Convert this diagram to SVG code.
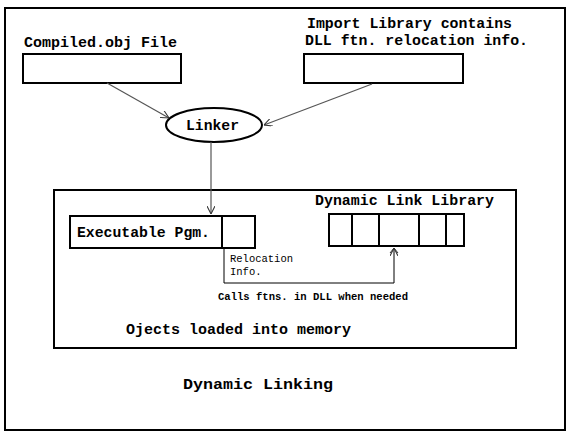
<svg xmlns="http://www.w3.org/2000/svg" width="571" height="434" viewBox="0 0 571 434">
  <style>
    .frame { fill: #fff; stroke: #000; stroke-width: 2; }
    .box { fill: #fff; stroke: #000; stroke-width: 2; }
    .wire { fill: none; stroke: #555; stroke-width: 1.2; }
    .lbl { font-family: "Liberation Mono", "DejaVu Sans Mono", monospace; font-size: 15px; font-weight: bold; fill: #000; }
    .small { font-family: "Liberation Mono", "DejaVu Sans Mono", monospace; font-size: 10.5px; fill: #000; }
    .smallb { font-family: "Liberation Mono", "DejaVu Sans Mono", monospace; font-size: 10.5px; font-weight: bold; fill: #000; }
  </style>
  <defs>
    <marker id="arr" viewBox="0 0 10 10" refX="10" refY="5" markerWidth="8" markerHeight="8" markerUnits="userSpaceOnUse" orient="auto">
      <path d="M0,0 L10,5 L0,10" fill="none" stroke="#333" stroke-width="1.3"/>
    </marker>
  </defs>

  <rect width="571" height="434" fill="#fff"/>
  <rect class="frame" x="5" y="8" width="560" height="422"/>

  <g id="compiled-obj">
    <text class="lbl" x="24" y="47" textLength="153" lengthAdjust="spacingAndGlyphs">Compiled.obj File</text>
    <rect class="box" x="23" y="54" width="158" height="29"/>
  </g>

  <g id="import-library">
    <text class="lbl" x="307" y="28" textLength="205" lengthAdjust="spacingAndGlyphs">Import Library contains</text>
    <text class="lbl" x="305" y="45" textLength="223" lengthAdjust="spacingAndGlyphs">DLL ftn. relocation info.</text>
    <rect class="box" x="304" y="54" width="159" height="29"/>
  </g>

  <g id="linker">
    <ellipse class="box" cx="214" cy="125" rx="48" ry="17"/>
    <text class="lbl" x="186" y="130" textLength="53" lengthAdjust="spacingAndGlyphs">Linker</text>
  </g>

  <g id="memory">
    <rect class="frame" x="54" y="190" width="462" height="158"/>
    <text class="lbl" x="126" y="334" textLength="225" lengthAdjust="spacingAndGlyphs">Ojects loaded into memory</text>
  </g>

  <g id="executable">
    <rect class="box" x="70" y="216" width="152" height="32"/>
    <rect class="box" x="222" y="216" width="33" height="32"/>
    <text class="lbl" x="77" y="237" textLength="133" lengthAdjust="spacingAndGlyphs">Executable Pgm.</text>
    <text class="small" x="230" y="262" textLength="63" lengthAdjust="spacingAndGlyphs">Relocation</text>
    <text class="small" x="230" y="275">Info.</text>
  </g>

  <g id="dll">
    <text class="lbl" x="315" y="205" textLength="179" lengthAdjust="spacingAndGlyphs">Dynamic Link Library</text>
    <rect class="box" x="329" y="214" width="135" height="32"/>
    <line x1="352" y1="214" x2="352" y2="246" stroke="#000" stroke-width="2"/>
    <line x1="379" y1="214" x2="379" y2="246" stroke="#000" stroke-width="2"/>
    <line x1="419" y1="214" x2="419" y2="246" stroke="#000" stroke-width="2"/>
    <line x1="446" y1="214" x2="446" y2="246" stroke="#000" stroke-width="2"/>
  </g>

  <g id="connectors">
    <line class="wire" x1="107" y1="83" x2="169" y2="118" marker-end="url(#arr)"/>
    <line class="wire" x1="372" y1="84" x2="264" y2="125" marker-end="url(#arr)"/>
    <line class="wire" x1="211" y1="142" x2="211" y2="214" marker-end="url(#arr)"/>
    <path d="M224,248 V283 H394 V248" fill="none" stroke="#000" stroke-width="1"/>
    <line x1="394" y1="283" x2="394" y2="248" stroke="none" marker-end="url(#arr)"/>
    <path d="M390,253 L394,248 L398,253" fill="none" stroke="#333" stroke-width="1"/>
    <text class="smallb" x="218" y="300" textLength="190" lengthAdjust="spacingAndGlyphs">Calls ftns. in DLL when needed</text>
  </g>

  <text class="lbl" x="183" y="389" font-size="16.5" textLength="150" lengthAdjust="spacingAndGlyphs">Dynamic Linking</text>
</svg>
